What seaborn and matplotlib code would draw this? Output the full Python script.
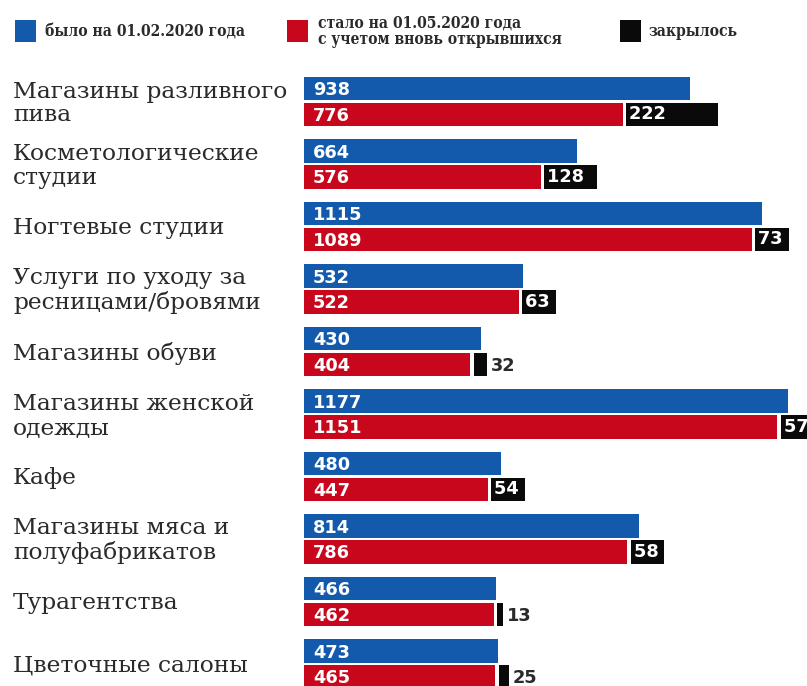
import matplotlib
matplotlib.use("Agg")
import matplotlib.pyplot as plt
import seaborn as sns
import pandas as pd
from matplotlib.patches import Rectangle

categories = [
    "Магазины разливного\nпива",
    "Косметологические\nстудии",
    "Ногтевые студии",
    "Услуги по уходу за\nресницами/бровями",
    "Магазины обуви",
    "Магазины женской\nодежды",
    "Кафе",
    "Магазины мяса и\nполуфабрикатов",
    "Турагентства",
    "Цветочные салоны",
]
before = [938, 664, 1115, 532, 430, 1177, 480, 814, 466, 473]
after = [776, 576, 1089, 522, 404, 1151, 447, 786, 462, 465]
closed = [222, 128, 73, 63, 32, 57, 54, 58, 13, 25]

series_names = ["было на 01.02.2020 года",
                "стало на 01.05.2020 года\nс учетом вновь открывшихся",
                "закрылось"]

BLUE = "#135aac"
RED = "#c8071d"
BLACK = "#0a0a0a"
TEXT = "#2a2a2a"

sns.set_theme(style="white")
plt.rcParams["font.family"] = ["DejaVu Sans"]

df = pd.DataFrame({
    "category": categories * 2,
    "series": [series_names[0]] * len(categories) + [series_names[1]] * len(categories),
    "value": before + after,
})

W, H = 807, 686
fig = plt.figure(figsize=(W / 100, H / 100), dpi=100)
fig.patch.set_facecolor("white")

# plotting area: bars start at x=304px and run to the right edge
ax = fig.add_axes([304 / W, 0, (W - 304) / W, 624 / H])
sns.barplot(data=df, y="category", x="value", hue="series",
            palette=[BLUE, RED], orient="h", width=0.83, gap=0.11,
            saturation=1, linewidth=0, legend=False, ax=ax)

px_per_unit = 0.411
xmax = (W - 304) / px_per_unit
ax.set_xlim(0, xmax)
ax.set_ylim(9.352, -0.632)
ax.axis("off")

off = 0.83 / 4          # dodge offset of each hue level
bar_h = 0.83 / 2 * 0.89
gap_units = 3.5 / px_per_unit
dy = 1.5 / 62.5         # nudge numbers slightly below the bar centre

# closed segments after the red bar
red_y = [i + off for i in range(len(categories))]
ax.barh(red_y, closed, left=[a + gap_units for a in after],
        height=bar_h, color=BLACK, linewidth=0)

val_font = dict(family="DejaVu Sans", weight="bold", size=12.8)
pad = 9 / px_per_unit
for i in range(len(categories)):
    ax.text(pad, i - off + dy, str(before[i]), color="white", va="center",
            ha="left", **val_font)
    ax.text(pad, i + off + dy, str(after[i]), color="white", va="center",
            ha="left", **val_font)
    start = after[i] + gap_units
    if closed[i] >= 50:
        # white number on a black tag that stays as tall as the bar
        ax.text(start + 3 / px_per_unit, i + off, str(closed[i]) + "\u2009",
                color="white", va="center", ha="left", clip_on=False,
                bbox=dict(boxstyle="square,pad=0.15", fc=BLACK, ec="none"),
                **val_font)
    else:
        ax.text(start + closed[i] + 4 / px_per_unit, i + off + dy,
                str(closed[i]), color=TEXT, va="center", ha="left",
                **val_font)

# category labels on the left
for i, name in enumerate(categories):
    ax.text(-291 / px_per_unit, i + 0.03, name, color=TEXT, va="center",
            ha="left", family="DejaVu Serif", size=16.8, linespacing=1.1,
            clip_on=False)

# legend row at the top
leg_font = dict(family="DejaVu Serif", stretch="condensed", size=11.2,
                color=TEXT, weight="semibold")
sq = [(15, BLUE), (287, RED), (620, BLACK)]
for x0, c in sq:
    fig.add_artist(Rectangle((x0 / W, 1 - 42 / H), 21 / W, 22 / H,
                             transform=fig.transFigure, color=c, lw=0))
fig.text(45 / W, 1 - 32 / H, series_names[0], va="center", ha="left", **leg_font)
fig.text(318 / W, 1 - 31 / H, series_names[1], va="center", ha="left",
         linespacing=0.95, **leg_font)
fig.text(649 / W, 1 - 31 / H, series_names[2], va="center", ha="left", **leg_font)

fig.savefig("out.png", dpi=100, facecolor="white")
